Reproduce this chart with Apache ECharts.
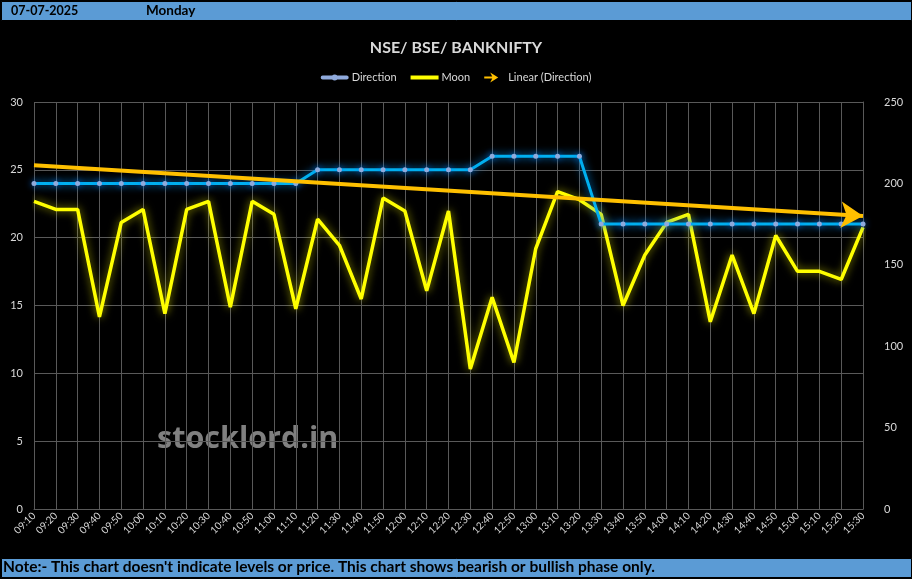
<!DOCTYPE html>
<html><head><meta charset="utf-8">
<script src="https://cdn.jsdelivr.net/npm/echarts@6/dist/echarts.min.js"></script>
<style>html,body{margin:0;padding:0;background:#000}#c{width:912px;height:579px}</style>
</head><body><div id="c"></div>
<script>
const headerDate = '07-07-2025';
const headerDay = 'Monday';
const chartTitle = 'NSE/ BSE/ BANKNIFTY';
const footerNote = "Note:- This chart doesn't indicate levels or price. This chart shows bearish or bullish phase only.";
const watermark = 'stocklord.in';

const categories = ['09:10','09:20','09:30','09:40','09:50','10:00','10:10','10:20','10:30','10:40','10:50',
  '11:00','11:10','11:20','11:30','11:40','11:50','12:00','12:10','12:20','12:30','12:40','12:50',
  '13:00','13:10','13:20','13:30','13:40','13:50','14:00','14:10','14:20','14:30','14:40','14:50',
  '15:00','15:10','15:20','15:30'];
const direction = [24,24,24,24,24,24,24,24,24,24,24,24,24,
  25,25,25,25,25,25,25,25,
  26,26,26,26,26,
  21,21,21,21,21,21,21,21,21,21,21,21,21];
const moon = [189,184,184,118,176,184,120,184,189,124,189,181,123,178,162,129,191,183,134,183,
  86,130,90,160,195,190,181,125,156,176,181,115,156,120,168,146,146,141,173];
const leftTicks = {min:0, max:30, interval:5};
const rightTicks = {min:0, max:250, interval:50};

// Linear trendline of Direction (least squares), as Excel computes it
const n = direction.length;
const mx = (n - 1) / 2;
const my = direction.reduce((a, b) => a + b, 0) / n;
let sxy = 0, sxx = 0;
direction.forEach((v, i) => { sxy += (i - mx) * (v - my); sxx += (i - mx) * (i - mx); });
const slope = sxy / sxx;
const intercept = my - slope * mx;
const trendStart = intercept;
const trendEnd = intercept + slope * (n - 1);

const FONT = 'Lato, "Liberation Sans", sans-serif';
const LBL = '#D9D9D9';
const GRID = '#595959';

const chart = echarts.init(document.getElementById('c'), null, {renderer: 'canvas'});
chart.setOption({
  backgroundColor: '#000',
  animation: false,
  textStyle: {fontFamily: FONT},
  title: {
    text: chartTitle, left: 'center', top: 35,
    textStyle: {color: LBL, fontSize: 16, fontWeight: 'bold', fontFamily: FONT}
  },
  legend: {
    top: 67, left: 'center', itemWidth: 28, itemHeight: 10, itemGap: 14,
    textStyle: {color: LBL, fontSize: 11, fontFamily: FONT, padding: [0, 0, 0, -2]},
    data: [
      {name: 'Direction', icon: 'path://M2,9 L26,9 A2,2 0 0 1 26,13 L2,13 A2,2 0 0 1 2,9 Z M14,8 A3,3 0 1 1 14,14 A3,3 0 1 1 14,8 Z'},
      {name: 'Moon', icon: 'path://M0,9 L28,9 L28,13 L0,13 Z'},
      {name: 'Linear (Direction)', icon: 'path://M0,8 L16,8 L12,0 L28,10 L12,20 L16,12 L0,12 Z'}
    ]
  },
  grid: {left: 34, right: 49, top: 102, bottom: 70},
  xAxis: {
    type: 'category', data: categories, boundaryGap: false,
    axisLine: {show: true, lineStyle: {color: GRID}},
    axisTick: {show: false},
    splitLine: {show: true, interval: 0, lineStyle: {color: GRID, width: 1}},
    axisLabel: {interval: 0, rotate: 45, color: LBL, fontSize: 10, fontFamily: FONT, margin: 5}
  },
  yAxis: [
    {
      type: 'value', min: leftTicks.min, max: leftTicks.max, interval: leftTicks.interval,
      axisLine: {show: false}, axisTick: {show: false},
      splitLine: {show: true, lineStyle: {color: GRID, width: 1}},
      axisLabel: {color: LBL, fontSize: 11, fontFamily: FONT, margin: 11}
    },
    {
      type: 'value', min: rightTicks.min, max: rightTicks.max, interval: rightTicks.interval,
      position: 'right',
      axisLine: {show: true, lineStyle: {color: GRID}}, axisTick: {show: false},
      splitLine: {show: false},
      axisLabel: {color: LBL, fontSize: 11, fontFamily: FONT, margin: 21}
    }
  ],
  series: [
    {
      name: 'Direction', type: 'line', yAxisIndex: 0, data: direction,
      symbol: 'circle', symbolSize: 5, showSymbol: true,
      lineStyle: {color: '#00B0F0', width: 3, shadowBlur: 8, shadowColor: 'rgba(0,150,255,0.9)'},
      itemStyle: {color: '#8FAADC', borderWidth: 0, shadowBlur: 6, shadowColor: 'rgba(0,120,255,0.9)'},
      z: 3
    },
    {
      name: 'Moon', type: 'line', yAxisIndex: 1, data: moon,
      symbol: 'none',
      lineStyle: {color: '#FFFF00', width: 3.5, shadowBlur: 8, shadowColor: 'rgba(255,255,0,0.6)'},
      itemStyle: {color: '#FFFF00'},
      z: 2
    },
    {
      name: 'Linear (Direction)', type: 'line', yAxisIndex: 0, data: [],
      itemStyle: {color: '#FFC000'},
      lineStyle: {color: '#FFC000', width: 4},
      markLine: {
        silent: true, animation: false,
        symbol: ['none', 'arrow'], symbolSize: [20, 22],
        label: {show: false},
        lineStyle: {color: '#FFC000', width: 4, type: 'solid'},
        data: [[{coord: [categories[0], trendStart]}, {coord: [categories[n - 1], trendEnd]}]]
      },
      z: 4
    }
  ],
  graphic: [
    {type: 'text', left: 157, top: 424, z: -10, style: {text: watermark, fill: '#808080', font: 'bold 30.5px "Open Sans", sans-serif'}},
    {type: 'rect', left: 1, top: 1, shape: {width: 910, height: 19},
      style: {fill: '#5B9BD5', stroke: '#000', lineWidth: 1}},
    {type: 'text', left: 11, top: 4, style: {text: headerDate, fill: '#000', font: 'bold 12.5px ' + FONT}},
    {type: 'text', left: 146, top: 4, style: {text: headerDay, fill: '#000', font: 'bold 13.5px ' + FONT}},
    {type: 'rect', left: 1, top: 558, shape: {width: 910, height: 19},
      style: {fill: '#5B9BD5', stroke: '#000', lineWidth: 1}},
    {type: 'text', left: 3, top: 559, style: {text: footerNote, fill: '#000', font: 'bold 15.5px ' + FONT}}
  ]
});
</script></body></html>
